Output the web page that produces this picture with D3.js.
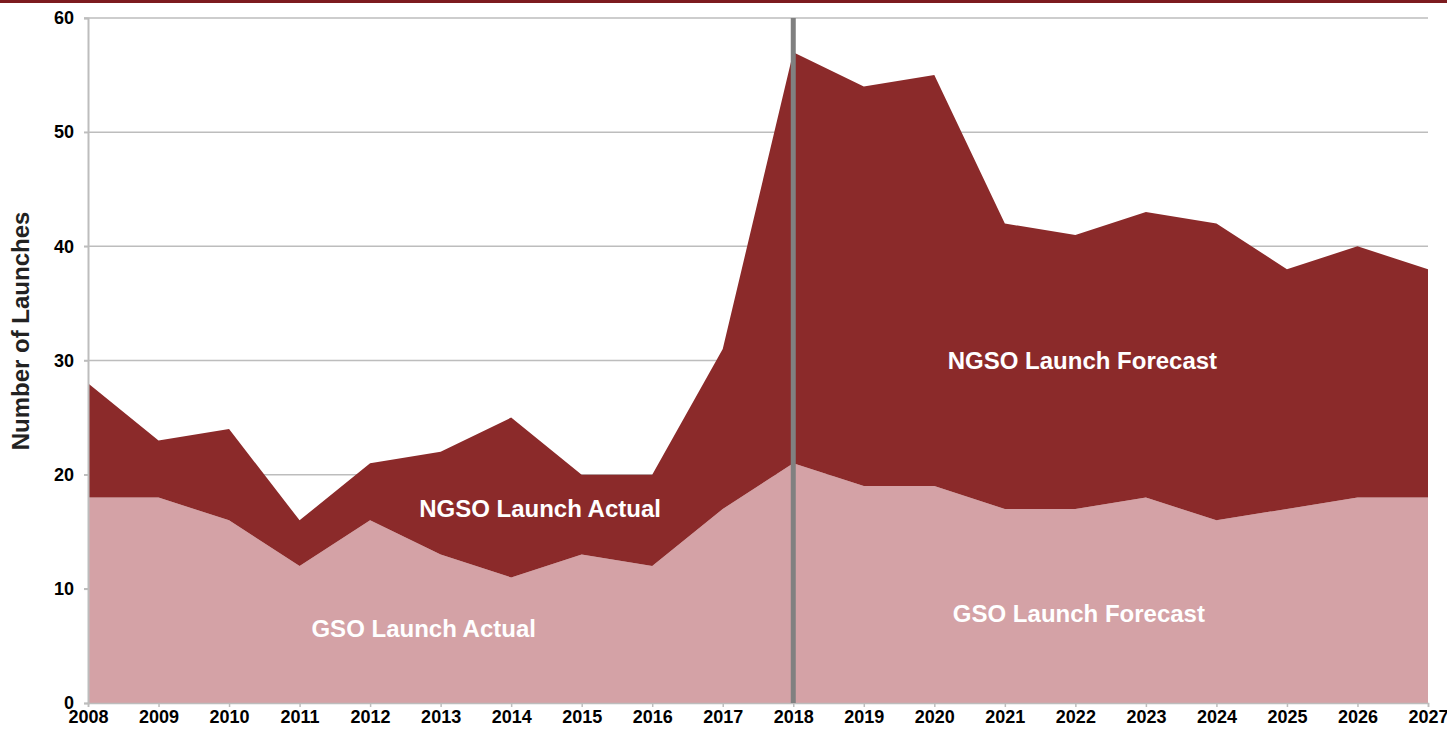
<!DOCTYPE html>
<html>
<head>
<meta charset="utf-8">
<script src="https://cdn.jsdelivr.net/npm/d3@7"></script>
<style>
  html, body { margin: 0; padding: 0; background: #fff; }
  svg { display: block; font-family: "Liberation Sans", Arial, Helvetica, sans-serif; }
</style>
</head>
<body>
<svg id="chart" width="1447" height="731"></svg>
<script>
// Annual launches, actuals through 2018 and forecast afterwards
const years = [2008, 2009, 2010, 2011, 2012, 2013, 2014, 2015, 2016, 2017,
               2018, 2019, 2020, 2021, 2022, 2023, 2024, 2025, 2026, 2027];
const gsoLaunches  = [18, 18, 16, 12, 16, 13, 11, 13, 12, 17,
                      21, 19, 19, 17, 17, 18, 16, 17, 18, 18];
const ngsoLaunches = [10, 5, 8, 4, 5, 9, 14, 7, 8, 14,
                      36, 35, 36, 25, 24, 25, 26, 21, 22, 20];
const yTicks = [0, 10, 20, 30, 40, 50, 60];
const splitYear = 2018;
const regionLabels = [
  { text: "NGSO Launch Actual",   year: 2014.41, value: 17 },
  { text: "GSO Launch Actual",    year: 2012.76, value: 6.5 },
  { text: "NGSO Launch Forecast", year: 2022.1,  value: 30 },
  { text: "GSO Launch Forecast",  year: 2022.05, value: 7.85 }
];

const svg = d3.select("#chart");
const margin = { left: 88, right: 19, top: 18, bottom: 28 };
const W = 1447, H = 731;

const x = d3.scaleLinear().domain([years[0], years[years.length - 1]])
  .range([margin.left, W - margin.right]);
const y = d3.scaleLinear().domain([0, 60]).range([H - margin.bottom, margin.top]);

// header rule
svg.append("rect").attr("x", 0).attr("y", 0).attr("width", W).attr("height", 3)
  .attr("fill", "#7c1b1f");

// horizontal gridlines
svg.append("g")
  .selectAll("line").data(yTicks.filter(d => d > 0)).join("line")
  .attr("x1", margin.left - 4).attr("x2", x(years[years.length - 1]))
  .attr("y1", d => y(d)).attr("y2", d => y(d))
  .attr("stroke", "#bdbdbd").attr("stroke-width", 1.5);

const rows = years.map((yr, i) => ({ year: yr, gso: gsoLaunches[i], ngso: ngsoLaunches[i] }));
const stack = d3.stack().keys(["gso", "ngso"])(rows);
const colors = { gso: "#d4a2a6", ngso: "#8b2a2a" };

const area = d3.area()
  .x(d => x(d.data.year))
  .y0(d => y(d[0]))
  .y1(d => y(d[1]));

svg.append("g").selectAll("path").data(stack).join("path")
  .attr("d", area)
  .attr("fill", d => colors[d.key]);

// y axis
const yAxis = d3.axisLeft(y).tickValues(yTicks).tickSize(4).tickPadding(10)
  .tickFormat(d3.format("d"));
const gy = svg.append("g").attr("transform", `translate(${margin.left},0)`).call(yAxis);
gy.select(".domain").attr("stroke", "#bdbdbd").attr("stroke-width", 2);
gy.selectAll(".tick line").attr("stroke", "#bdbdbd").attr("stroke-width", 1.5);
gy.selectAll(".tick text").attr("font-size", 18).attr("font-weight", "bold")
  .attr("fill", "#000").attr("font-family", "Liberation Sans, Arial, sans-serif");

// x axis
const xAxis = d3.axisBottom(x).tickValues(years).tickSize(4).tickPadding(3)
  .tickFormat(d3.format("d"));
const gx = svg.append("g").attr("transform", `translate(0,${y(0)})`).call(xAxis);
gx.select(".domain").attr("stroke", "#bdbdbd").attr("stroke-width", 1.5);
gx.selectAll(".tick line").attr("stroke", "#bdbdbd").attr("stroke-width", 1.5);
gx.selectAll(".tick text").attr("font-size", 18).attr("font-weight", "bold")
  .attr("fill", "#000").attr("font-family", "Liberation Sans, Arial, sans-serif");

// actual / forecast divider
svg.append("line")
  .attr("x1", x(splitYear)).attr("x2", x(splitYear))
  .attr("y1", y(60)).attr("y2", y(0))
  .attr("stroke", "#808080").attr("stroke-width", 5);

// region labels
svg.append("g").selectAll("text").data(regionLabels).join("text")
  .attr("x", d => x(d.year)).attr("y", d => y(d.value))
  .attr("text-anchor", "middle").attr("dominant-baseline", "central")
  .attr("fill", "#fff").attr("font-weight", "bold").attr("font-size", 24)
  .text(d => d.text);

// y axis title
svg.append("text")
  .attr("transform", `translate(20,331) rotate(-90)`)
  .attr("text-anchor", "middle").attr("dominant-baseline", "central")
  .attr("font-size", 24).attr("font-weight", "bold").attr("fill", "#222")
  .text("Number of Launches");
</script>
</body>
</html>
